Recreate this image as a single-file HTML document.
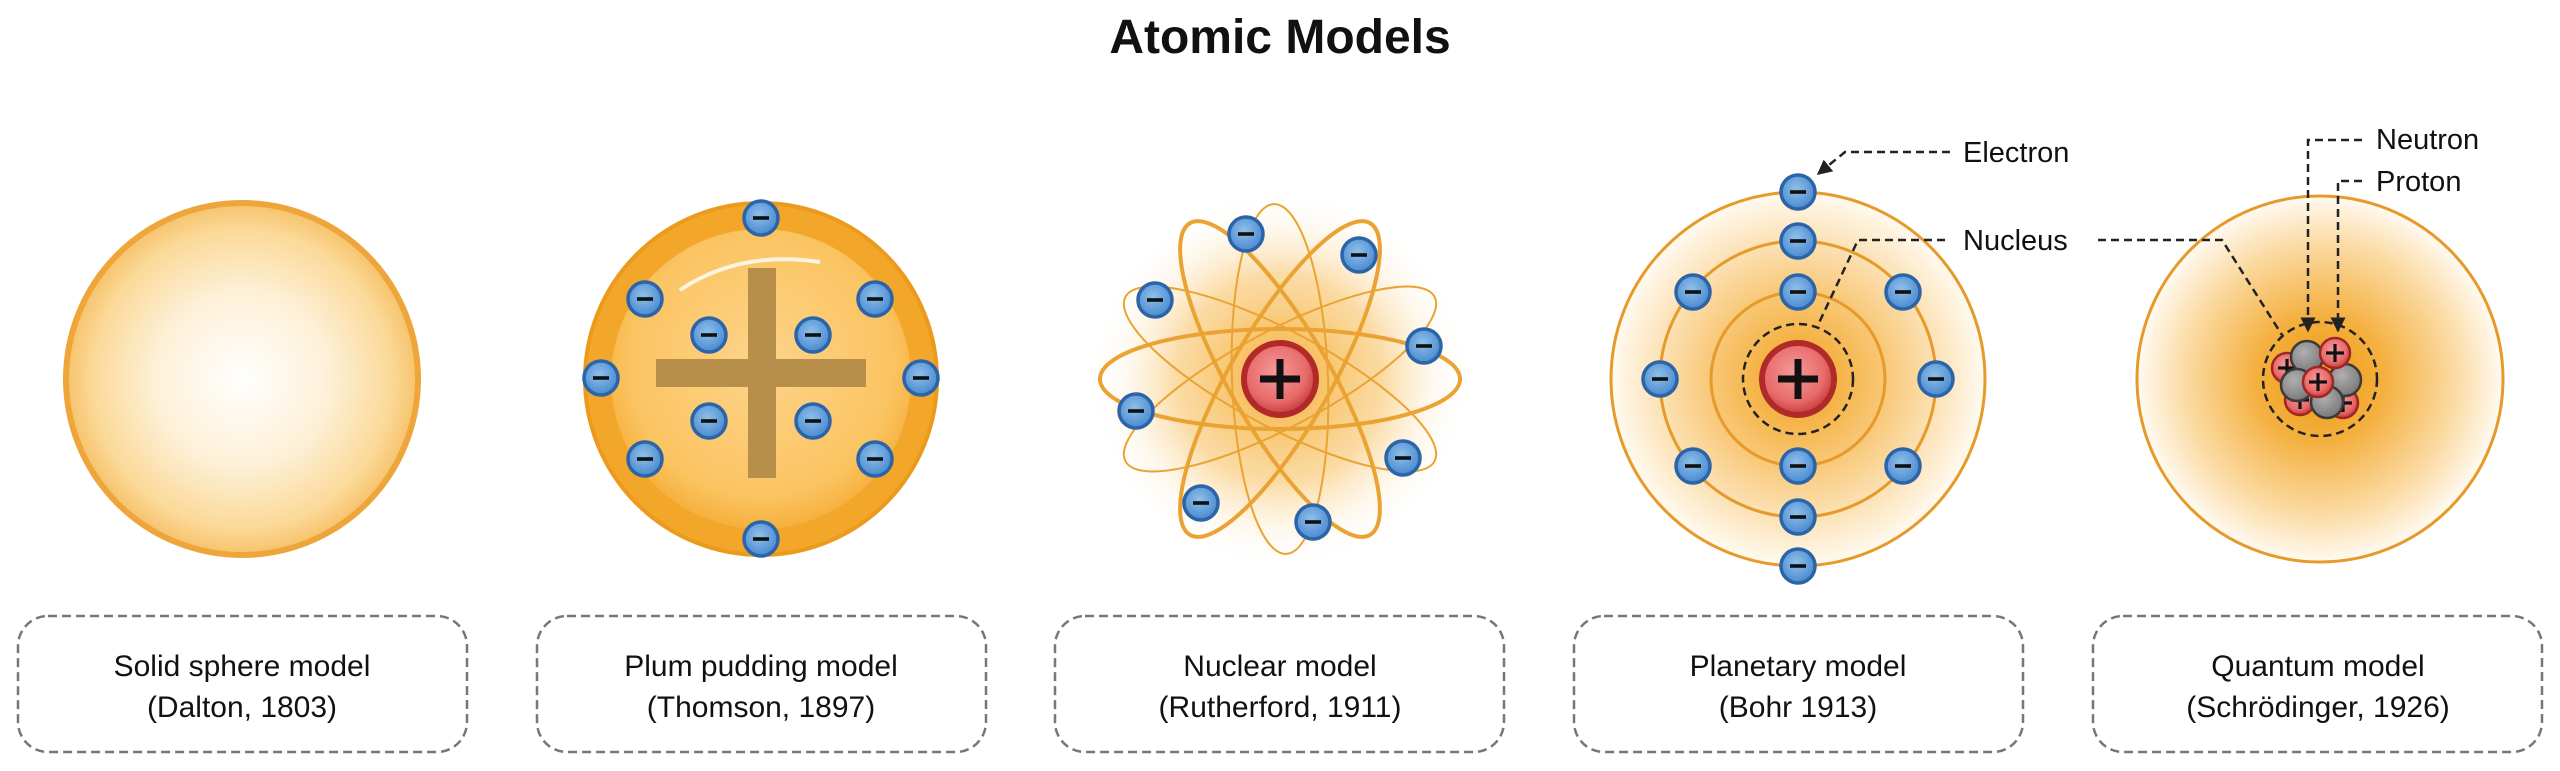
<!DOCTYPE html>
<html><head><meta charset="utf-8"><style>
html,body{margin:0;padding:0;background:#fff;}
svg{display:block;}
text{font-family:"Liberation Sans",sans-serif;}
</style></head><body>
<svg width="2560" height="771" viewBox="0 0 2560 771" xmlns="http://www.w3.org/2000/svg">
<defs>
<radialGradient id="dal" cx="0.5" cy="0.5" r="0.5">
<stop offset="0" stop-color="#ffffff"/><stop offset="0.5" stop-color="#fdf0d6"/><stop offset="0.85" stop-color="#fbd998"/><stop offset="1" stop-color="#f6c26a"/>
</radialGradient>
<radialGradient id="tho" cx="0.5" cy="0.45" r="0.55">
<stop offset="0" stop-color="#fdd48a"/><stop offset="0.8" stop-color="#fbc462"/><stop offset="1" stop-color="#f5b03c"/>
</radialGradient>
<radialGradient id="glow" cx="0.5" cy="0.5" r="0.5">
<stop offset="0" stop-color="#f4a92a" stop-opacity="0.95"/><stop offset="0.55" stop-color="#f8c46a" stop-opacity="0.6"/><stop offset="1" stop-color="#fff" stop-opacity="0"/>
</radialGradient>
<radialGradient id="bohr" cx="0.5" cy="0.5" r="0.5">
<stop offset="0" stop-color="#f2a21e"/><stop offset="0.45" stop-color="#f8c673"/><stop offset="1" stop-color="#fffaf0"/>
</radialGradient>
<radialGradient id="qua" cx="0.5" cy="0.5" r="0.5">
<stop offset="0" stop-color="#ee9a0c"/><stop offset="0.35" stop-color="#f4b040"/><stop offset="0.75" stop-color="#fbdca6"/><stop offset="1" stop-color="#fffaf2"/>
</radialGradient>
<radialGradient id="el" cx="0.45" cy="0.4" r="0.6">
<stop offset="0" stop-color="#8fc0ea"/><stop offset="1" stop-color="#4a8ad0"/>
</radialGradient>
<radialGradient id="nu" cx="0.45" cy="0.4" r="0.6">
<stop offset="0" stop-color="#f59a9a"/><stop offset="0.7" stop-color="#e86a6a"/><stop offset="1" stop-color="#c83a3a"/>
</radialGradient>
<radialGradient id="ne" cx="0.4" cy="0.35" r="0.65">
<stop offset="0" stop-color="#b0b0b0"/><stop offset="1" stop-color="#7a7a7a"/>
</radialGradient>
<g id="e"><circle r="17" fill="url(#el)" stroke="#2c64a8" stroke-width="3.5"/><rect x="-8" y="-1.8" width="16" height="3.6" fill="#111"/></g>
<g id="N"><circle r="36" fill="url(#nu)" stroke="#b02a2a" stroke-width="6"/><rect x="-20" y="-3.5" width="40" height="7" fill="#111"/><rect x="-3.5" y="-20" width="7" height="40" fill="#111"/></g>
<g id="p"><circle r="15" fill="url(#nu)" stroke="#a02525" stroke-width="2.5"/><rect x="-9" y="-1.6" width="18" height="3.2" fill="#111"/><rect x="-1.6" y="-9" width="3.2" height="18" fill="#111"/></g>
<g id="n"><circle r="16" fill="url(#ne)" stroke="#3a3a3a" stroke-width="2.5"/></g>
<marker id="ar" viewBox="0 0 10 10" refX="9" refY="5" markerWidth="6" markerHeight="6" orient="auto"><path d="M0,0 L10,5 L0,10 z" fill="#222"/></marker>
</defs>

<text x="1280" y="53" text-anchor="middle" font-size="48" font-weight="bold" fill="#111">Atomic Models</text>

<!-- Dalton -->
<circle cx="242" cy="379" r="176" fill="url(#dal)" stroke="#eea53a" stroke-width="6"/>
<circle cx="242" cy="379" r="160" fill="none" stroke="#f8cf85" stroke-width="4" opacity="0.6"/>

<!-- Thomson -->
<circle cx="761" cy="379" r="176" fill="#f2a62a" stroke="#eb9a1c" stroke-width="4"/>
<circle cx="761" cy="379" r="150" fill="url(#tho)"/>
<path d="M680 290 Q740 250 820 262" stroke="#fff" stroke-width="4" fill="none" opacity="0.8"/>
<rect x="748" y="268" width="28" height="210" fill="#b88f4a"/>
<rect x="656" y="359" width="210" height="28" fill="#b88f4a"/>
<use href="#e" x="761" y="218"/><use href="#e" x="645" y="299"/><use href="#e" x="875" y="299"/>
<use href="#e" x="709" y="335"/><use href="#e" x="813" y="335"/><use href="#e" x="601" y="378"/>
<use href="#e" x="921" y="378"/><use href="#e" x="709" y="421"/><use href="#e" x="813" y="421"/>
<use href="#e" x="645" y="459"/><use href="#e" x="875" y="459"/><use href="#e" x="761" y="539"/>

<!-- Rutherford -->
<circle cx="1280" cy="379" r="190" fill="url(#glow)"/>
<g fill="none" stroke="#eaa332" transform="translate(1280 379)">
<ellipse rx="180" ry="50" stroke-width="4"/>
<ellipse rx="180" ry="50" stroke-width="4" transform="rotate(60)"/>
<ellipse rx="180" ry="50" stroke-width="4" transform="rotate(120)"/>
<ellipse rx="175" ry="48" stroke-width="2" transform="rotate(28)"/>
<ellipse rx="175" ry="48" stroke-width="2" transform="rotate(88)"/>
<ellipse rx="175" ry="48" stroke-width="2" transform="rotate(152)"/>
</g>
<use href="#N" x="1280" y="379"/>
<use href="#e" x="1246" y="234"/><use href="#e" x="1359" y="255"/><use href="#e" x="1155" y="300"/>
<use href="#e" x="1424" y="346"/><use href="#e" x="1136" y="411"/><use href="#e" x="1403" y="458"/>
<use href="#e" x="1201" y="503"/><use href="#e" x="1313" y="522"/>

<!-- Bohr -->
<circle cx="1798" cy="379" r="187" fill="url(#bohr)" stroke="#e59a2a" stroke-width="3"/>
<circle cx="1798" cy="379" r="138" fill="none" stroke="#e59a2a" stroke-width="3"/>
<circle cx="1798" cy="379" r="87" fill="none" stroke="#e59a2a" stroke-width="3"/>
<circle cx="1798" cy="379" r="55" fill="none" stroke="#222" stroke-width="2.5" stroke-dasharray="8 5"/>
<use href="#N" x="1798" y="379"/>
<use href="#e" x="1798" y="192"/><use href="#e" x="1798" y="241"/><use href="#e" x="1798" y="292"/>
<use href="#e" x="1798" y="466"/><use href="#e" x="1798" y="517"/><use href="#e" x="1798" y="566"/>
<use href="#e" x="1660" y="379"/><use href="#e" x="1936" y="379"/>
<use href="#e" x="1693" y="292"/><use href="#e" x="1903" y="292"/>
<use href="#e" x="1693" y="466"/><use href="#e" x="1903" y="466"/>

<!-- Quantum -->
<circle cx="2320" cy="379" r="183" fill="url(#qua)" stroke="#e59a2a" stroke-width="3"/>
<use href="#p" x="2287" y="368"/><use href="#p" x="2300" y="400"/><use href="#p" x="2343" y="403"/>
<use href="#n" x="2307" y="357"/><use href="#n" x="2345" y="380"/><use href="#n" x="2297" y="385"/><use href="#n" x="2327" y="402"/>
<use href="#p" x="2335" y="353"/><use href="#p" x="2318" y="382"/>
<circle cx="2320" cy="379" r="57" fill="none" stroke="#222" stroke-width="2.5" stroke-dasharray="8 5"/>

<!-- leaders -->
<g fill="none" stroke="#222" stroke-width="2.5" stroke-dasharray="8 5">
<path d="M1950 152 H1845 L1818 174" marker-end="url(#ar)"/>
<path d="M1945 240 H1858 L1818 325"/>
<path d="M2098 240 H2222 L2282 335"/>
<path d="M2362 140 H2308 V331" marker-end="url(#ar)"/>
<path d="M2362 181 H2338 V331" marker-end="url(#ar)"/>
</g>
<g font-size="29" fill="#111">
<text x="1963" y="162">Electron</text>
<text x="1963" y="250">Nucleus</text>
<text x="2376" y="149">Neutron</text>
<text x="2376" y="191">Proton</text>
</g>

<!-- boxes -->
<g fill="none" stroke="#777" stroke-width="2.5" stroke-dasharray="9 5">
<rect x="18" y="616" width="449" height="136" rx="30"/>
<rect x="537" y="616" width="449" height="136" rx="30"/>
<rect x="1055" y="616" width="449" height="136" rx="30"/>
<rect x="1574" y="616" width="449" height="136" rx="30"/>
<rect x="2093" y="616" width="449" height="136" rx="30"/>
</g>
<g font-size="30" fill="#111" text-anchor="middle">
<text x="242" y="676">Solid sphere model</text><text x="242" y="717">(Dalton, 1803)</text>
<text x="761" y="676">Plum pudding model</text><text x="761" y="717">(Thomson, 1897)</text>
<text x="1280" y="676">Nuclear model</text><text x="1280" y="717">(Rutherford, 1911)</text>
<text x="1798" y="676">Planetary model</text><text x="1798" y="717">(Bohr 1913)</text>
<text x="2318" y="676">Quantum model</text><text x="2318" y="717">(Schrödinger, 1926)</text>
</g>
</svg>
</body></html>
